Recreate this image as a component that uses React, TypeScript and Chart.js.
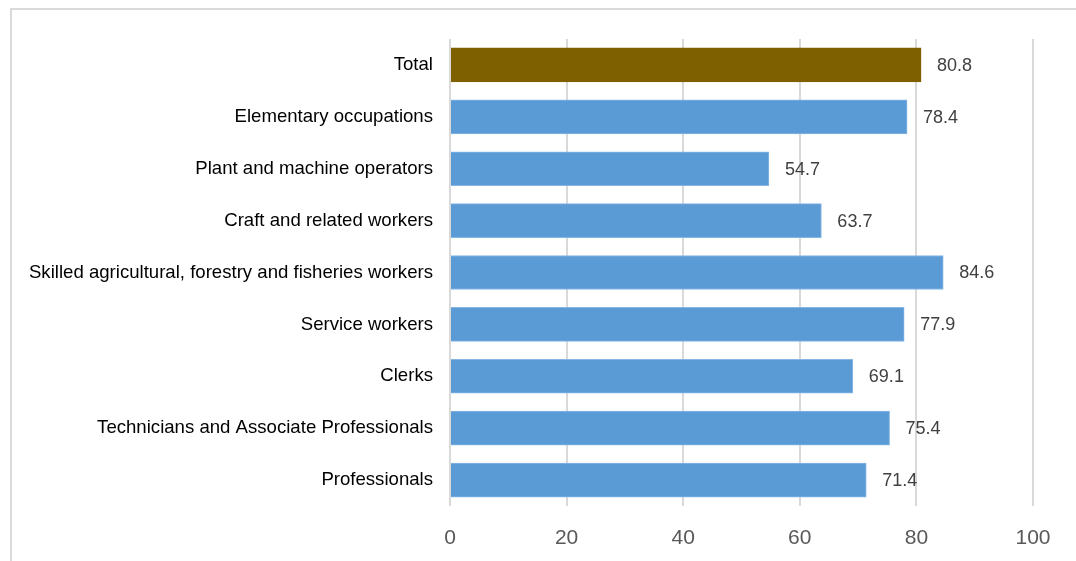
import React, { useEffect, useRef } from "react";
import { Chart, registerables } from "chart.js";

Chart.register(...registerables);

const categories = [
  "Total",
  "Elementary occupations",
  "Plant and machine operators",
  "Craft and related workers",
  "Skilled agricultural, forestry and fisheries workers",
  "Service workers",
  "Clerks",
  "Technicians and Associate Professionals",
  "Professionals",
];
const values = [80.8, 78.4, 54.7, 63.7, 84.6, 77.9, 69.1, 75.4, 71.4];
const barColors = ["#7F6000", "#5B9BD5", "#5B9BD5", "#5B9BD5", "#5B9BD5", "#5B9BD5", "#5B9BD5", "#5B9BD5", "#5B9BD5"];
const xTicks = [0, 20, 40, 60, 80, 100];

const framePlugin = {
  id: "frame",
  beforeDraw(chart: any) {
    const ctx = chart.ctx;
    ctx.save();
    ctx.fillStyle = "#ffffff";
    ctx.fillRect(0, 0, chart.width, chart.height);
    ctx.strokeStyle = "#d9d9d9";
    ctx.lineWidth = 2;
    ctx.beginPath();
    ctx.moveTo(11, chart.height + 5);
    ctx.lineTo(11, 9);
    ctx.lineTo(chart.width + 5, 9);
    ctx.stroke();
    ctx.restore();
  },
};

const labelPlugin = {
  id: "valueLabels",
  afterDatasetsDraw(chart: any) {
    const ctx = chart.ctx;
    const meta = chart.getDatasetMeta(0);
    ctx.save();
    ctx.font = '18px "Liberation Sans", Arial, sans-serif';
    ctx.fillStyle = "#404040";
    ctx.textAlign = "left";
    ctx.textBaseline = "middle";
    meta.data.forEach((el: any, i: number) => {
      ctx.fillText(values[i].toFixed(1), el.x + 16, el.y + 1);
    });
    ctx.restore();
  },
};

export default function App() {
  const ref = useRef<HTMLCanvasElement>(null);
  useEffect(() => {
    if (!ref.current) return;
    const chart = new Chart(ref.current, {
      type: "bar",
      data: {
        labels: categories,
        datasets: [
          {
            data: values,
            backgroundColor: barColors,
            borderColor: barColors.map((c) => (c === "#5B9BD5" ? "#86b6e4" : c)),
            borderWidth: 1,
            barThickness: 34,
          },
        ],
      },
      options: {
        indexAxis: "y",
        animation: false,
        responsive: false,
        maintainAspectRatio: false,
        layout: { padding: { left: 0, top: 39, right: 43, bottom: 0 } },
        plugins: { legend: { display: false }, tooltip: { enabled: false } },
        scales: {
          x: {
            min: 0,
            max: 100,
            afterBuildTicks(scale: any) {
              scale.ticks = xTicks.map((v) => ({ value: v }));
            },
            afterFit(scale: any) {
              scale.height = 55;
            },
            grid: { color: "#d9d9d9", lineWidth: 2, drawTicks: false },
            border: { display: false },
            ticks: {
              color: "#595959",
              font: { family: '"Liberation Sans", Arial, sans-serif', size: 21 },
              padding: 20,
            },
          },
          y: {
            afterFit(scale: any) {
              scale.width = 450;
            },
            grid: { display: false, drawTicks: false },
            border: { display: false },
            ticks: {
              color: "#000000",
              font: { family: '"Liberation Sans", Arial, sans-serif', size: 18.6 },
              padding: 17,
              autoSkip: false,
            },
          },
        },
      },
      plugins: [framePlugin, labelPlugin],
    });
    return () => chart.destroy();
  }, []);
  return (
    <div style={{ position: "fixed", left: 0, top: 0, width: 1076, height: 561 }}>
      <canvas ref={ref} width={1076} height={561} style={{ width: 1076, height: 561 }} />
    </div>
  );
}
